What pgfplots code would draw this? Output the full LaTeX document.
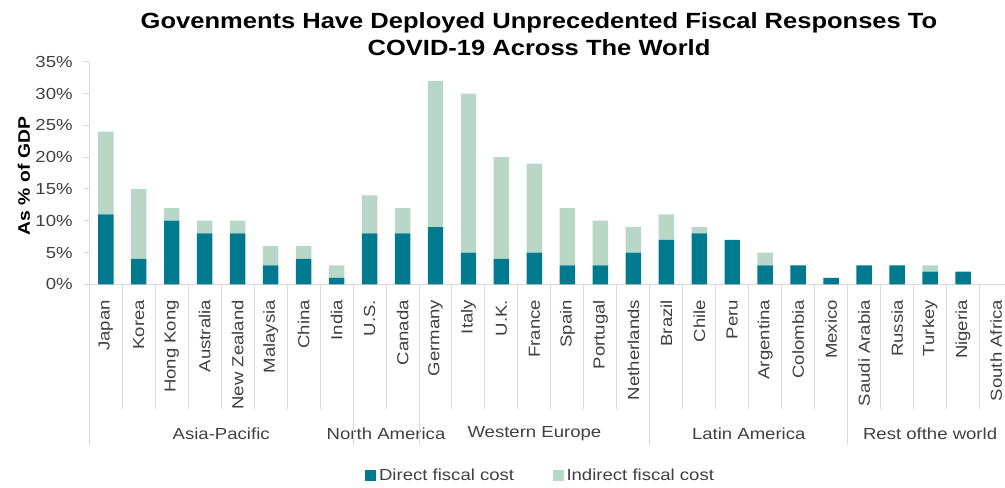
\documentclass[border=0pt]{standalone}
\usepackage{pgfplots}
\pgfplotsset{compat=1.18}
\usepackage{pgfplotstable}
\usepackage{fontspec}
\setmainfont{Liberation Sans}[FakeStretch=1.16]
\definecolor{direct}{HTML}{007A8F}
\definecolor{indirect}{HTML}{B9D7C7}
\definecolor{lgray}{HTML}{D9D9D9}
\definecolor{tgray}{HTML}{404040}

\pgfplotstableread{
idx direct indirect
0 11 13
1 4 11
2 10 2
3 8 2
4 8 2
5 3 3
6 4 2
7 1 2
8 8 6
9 8 4
10 9 23
11 5 25
12 4 16
13 5 14
14 3 9
15 3 7
16 5 4
17 7 4
18 8 1
19 7 0
20 3 2
21 3 0
22 1 0
23 3 0
24 3 0
25 2 1
26 2 0
27 0 0
}\data

\begin{document}
\begin{tikzpicture}
\useasboundingbox (0,0) rectangle (753.75pt,365.25pt);
\clip (0,0) rectangle (753.75pt,365.25pt);
\node[anchor=base, font=\bfseries\fontsize{16.5}{19}\selectfont, text=black] at (404.25pt,344pt) {Govenments Have Deployed Unprecedented Fiscal Responses To};
\node[anchor=base, font=\bfseries\fontsize{16.5}{19}\selectfont, text=black] at (404.25pt,323.6pt) {COVID-19 Across The World};
\begin{axis}[
  at={(66.98pt,152.0pt)}, anchor=south west,
  scale only axis, width=692.4pt, height=166.95pt,
  xmin=-0.5, xmax=27.5, ymin=0, ymax=35,
  ybar stacked, bar width=11.6pt,
  clip=false,
  axis x line*=bottom, axis y line*=left,
  axis line style={lgray, line width=0.75pt, -},
  xtick={0,...,27},
  xticklabels={Japan,Korea,Hong Kong,Australia,New Zealand,Malaysia,China,India,U.S.,Canada,Germany,Italy,U.K.,France,Spain,Portugal,Netherlands,Brazil,Chile,Peru,Argentina,Colombia,Mexico,Saudi Arabia,Russia,Turkey,Nigeria,South Africa},
  xticklabel style={yshift=-3.75pt, rotate=90, anchor=east, font=\fontsize{12}{14}\selectfont, text=tgray},
  x tick style={draw=none},
  ytick={0,5,...,35},
  yticklabels={0\%,5\%,10\%,15\%,20\%,25\%,30\%,35\%},
  yticklabel style={font=\fontsize{12}{14}\selectfont, text=tgray, xshift=-4.5pt},
  y tick style={lgray, line width=0.75pt},
  tick align=outside, major tick length=4.5pt,
  ylabel={As \% of GDP},
  ylabel style={at={(axis description cs:-0.0707,0.4865)}, anchor=center, font=\bfseries\fontsize{12.5}{14}\selectfont, text=black},
  legend style={at={(axis description cs:0.4893,-0.86)}, anchor=center, draw=none, fill=none, legend columns=2, font=\fontsize{12}{14}\selectfont, text=tgray, /tikz/every even column/.append style={column sep=27pt}},
]
\addplot[fill=direct, draw=none, legend image code/.code={\fill[direct] (0pt,-4.1pt) rectangle (8.25pt,4.1pt);}] table[x=idx,y=direct]{\data};
\addlegendentry{Direct fiscal cost}
\addplot[fill=indirect, draw=none, legend image code/.code={\fill[indirect] (0pt,-4.1pt) rectangle (8.25pt,4.1pt);}] table[x=idx,y=indirect]{\data};
\addlegendentry{Indirect fiscal cost}
\pgfplotsinvokeforeach{0.5,1.5,2.5,3.5,4.5,5.5,6.5,8.5,10.5,11.5,12.5,13.5,14.5,15.5,17.5,18.5,19.5,20.5,21.5,23.5,24.5,25.5,26.5}{
  \draw[lgray, line width=0.75pt] (axis cs:#1,0) -- ([yshift=-93.75pt]axis cs:#1,0);
}
\pgfplotsinvokeforeach{-0.5,7.5,9.5,16.5,22.5,27.5}{
  \draw[lgray, line width=0.75pt] (axis cs:#1,0) -- ([yshift=-120.75pt]axis cs:#1,0);
}
\node[font=\fontsize{12}{14}\selectfont, text=tgray] at ([yshift=-112.3pt]axis cs:3.5,0) {Asia-Pacific};
\node[font=\fontsize{12}{14}\selectfont, text=tgray] at ([yshift=-112.3pt]axis cs:8.5,0) {North America};
\node[font=\fontsize{12}{14}\selectfont, text=tgray] at ([yshift=-112.3pt]axis cs:13,0) {Western Europe};
\node[font=\fontsize{12}{14}\selectfont, text=tgray] at ([yshift=-112.3pt]axis cs:19.5,0) {Latin America};
\node[font=\fontsize{12}{14}\selectfont, text=tgray] at ([yshift=-112.3pt]axis cs:25,0) {Rest ofthe world};
\end{axis}
\end{tikzpicture}
\end{document}
